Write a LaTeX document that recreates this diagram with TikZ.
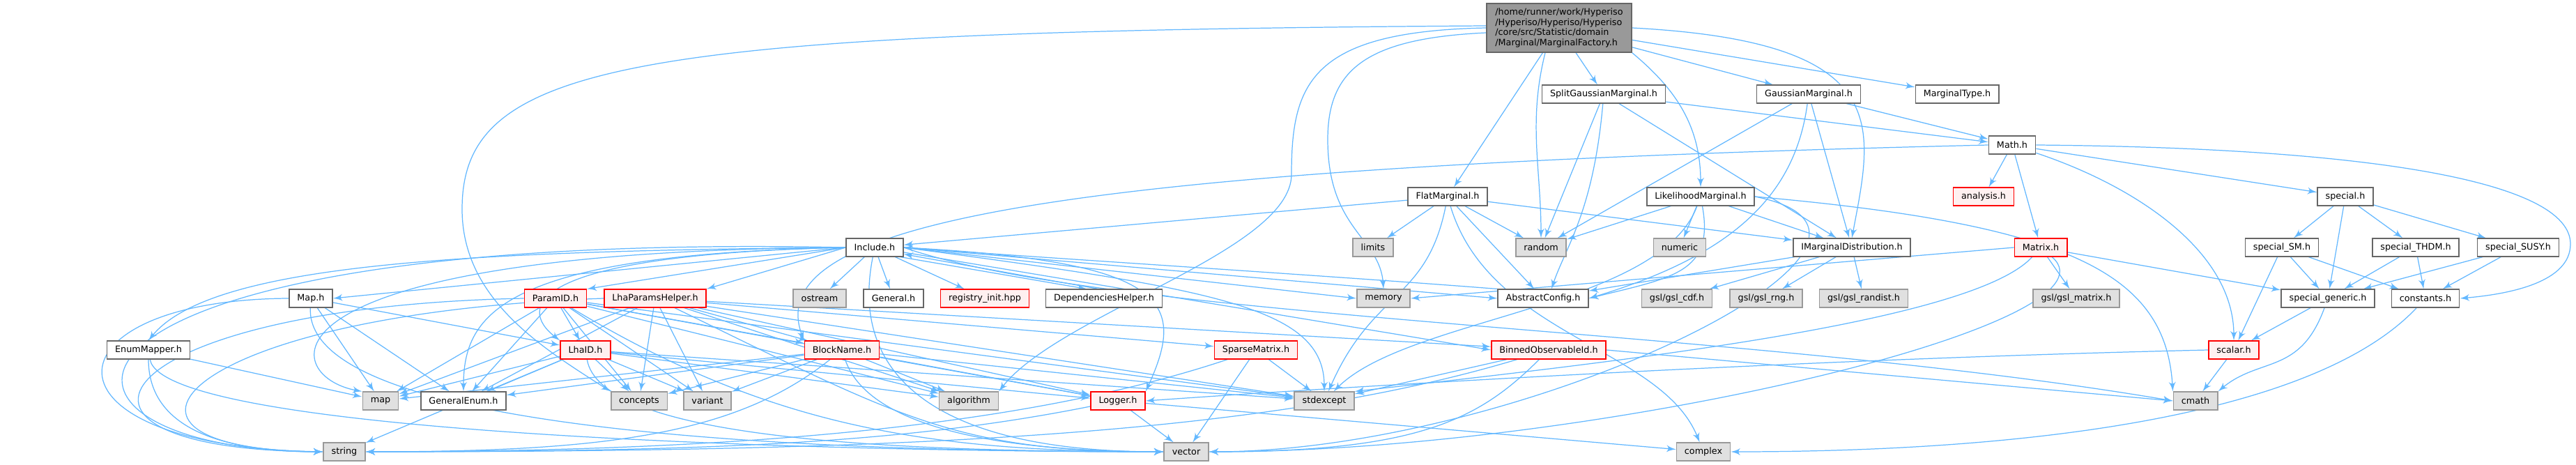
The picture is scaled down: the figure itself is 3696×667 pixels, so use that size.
\documentclass[tikz,border=0pt]{standalone}
\usepackage{fontspec}
\setmainfont{DejaVu Sans}
\usepackage{xcolor}
\usepackage{tikz}
\usetikzlibrary{shapes, arrows}
\definecolor{edgeblue}{HTML}{63B8FF}
\definecolor{framegray}{HTML}{666666}
\definecolor{sysgray}{HTML}{999999}
\definecolor{sysfill}{HTML}{E0E0E0}
\definecolor{partfill}{HTML}{FFF0F0}
\definecolor{partred}{HTML}{FF0000}
\definecolor{rootfill}{HTML}{999999}
\pgfdeclarelayer{background}
\pgfsetlayers{background,main}
\tikzstyle{header} = [rectangle, draw=framegray, fill=white, text centered, minimum height=0.255cm, inner xsep=0.115cm, inner ysep=0pt, line width=0.45pt]
\tikzstyle{sysheader} = [header, draw=sysgray, fill=sysfill]
\tikzstyle{partial} = [header, draw=partred, fill=partfill]
\tikzstyle{mainfile} = [header, fill=rootfill, align=left, minimum height=0.70cm, minimum width=2.08cm]
\tikzstyle{connector} = [draw=edgeblue, line width=0.35pt, -latex']

\begin{document}
\begin{tikzpicture}[x=0.01cm, y=-0.01cm, font=\fontsize{3.63}{4.2}\selectfont]
    \useasboundingbox (0,0) rectangle (3696,667);

    \node [mainfile] at (2237,40) (root)
    {/home/runner/work/Hyperiso\\/Hyperiso/Hyperiso/Hyperiso\\/core/src/Statistic/domain\\/Marginal/MarginalFactory.h};

    \node [header] at (2301,135) (split) {SplitGaussianMarginal.h};
    \node [header] at (2595,135) (gauss) {GaussianMarginal.h};
    \node [header] at (2808,135) (mtype) {MarginalType.h};
    \node [header] at (2887,208) (math) {Math.h};
    \node [header] at (2077,282) (flat) {FlatMarginal.h};
    \node [header] at (2440,282) (likeli) {LikelihoodMarginal.h};
    \node [partial] at (2846,282) (analysis) {analysis.h};
    \node [header] at (3365,282) (special) {special.h};

    \node [header] at (1255,355) (include) {Include.h};
    \node [sysheader] at (1970,355) (limits) {limits};
    \node [sysheader] at (2211,355) (random) {random};
    \node [sysheader] at (2410,355) (numeric) {numeric};
    \node [header] at (2657,355) (imarg) {IMarginalDistribution.h};
    \node [partial] at (2928,355) (matrix) {Matrix.h};
    \node [header] at (3274,355) (specsm) {special\_SM.h};
    \node [header] at (3466,355) (specthdm) {special\_THDM.h};
    \node [header] at (3613,355) (specsusy) {special\_SUSY.h};

    \node [header] at (446,428) (mapfile) {Map.h};
    \node [partial] at (797,428) (paramid) {ParamID.h};
    \node [partial] at (940,428) (lhaparams) {LhaParamsHelper.h};
    \node [sysheader] at (1176,428) (ostream) {ostream};
    \node [header] at (1282,428) (general) {General.h};
    \node [partial] at (1413,428) (registry) {registry\_init.hpp};
    \node [header] at (1584,428) (dephelper) {DependenciesHelper.h};
    \node [sysheader] at (1985,428) (memory) {memory};
    \node [header] at (2214,428) (absconfig) {AbstractConfig.h};
    \node [sysheader] at (2406,428) (gslcdf) {gsl/gsl\_cdf.h};
    \node [sysheader] at (2534,428) (gslrng) {gsl/gsl\_rng.h};
    \node [sysheader] at (2674,428) (gslrandist) {gsl/gsl\_randist.h};
    \node [sysheader] at (2979,428) (gslmatrix) {gsl/gsl\_matrix.h};
    \node [header] at (3340,428) (specgen) {special\_generic.h};
    \node [header] at (3480,428) (constants) {constants.h};

    \node [header] at (213,502) (enummap) {EnumMapper.h};
    \node [partial] at (840,502) (lhaid) {LhaID.h};
    \node [partial] at (1208,502) (blockname) {BlockName.h};
    \node [partial] at (1802,502) (sparse) {SparseMatrix.h};
    \node [partial] at (2222,502) (binned) {BinnedObservableId.h};
    \node [partial] at (3205,502) (scalar) {scalar.h};

    \node [sysheader] at (546,575) (map) {map};
    \node [header] at (665,575) (genenum) {GeneralEnum.h};
    \node [sysheader] at (917,575) (concepts) {concepts};
    \node [sysheader] at (1015,575) (variant) {variant};
    \node [sysheader] at (1390,575) (algorithm) {algorithm};
    \node [partial] at (1604,575) (logger) {Logger.h};
    \node [sysheader] at (1900,575) (stdexcept) {stdexcept};
    \node [sysheader] at (3150,575) (cmath) {cmath};

    \node [sysheader] at (494,648) (string) {string};
    \node [sysheader] at (1702,648) (vector) {vector};
    \node [sysheader] at (2444,648) (complex) {complex};

    \begin{pgfonlayer}{background}
    \fill [white] (0,0) rectangle (3696,667);

    % top level file
    \path [connector] (root) -- (flat);
    \path [connector] (root) -- (split);
    \path [connector] (root) -- (gauss);
    \path [connector] (root) -- (mtype);
    \path [connector] (root.south east) .. controls +(60,50) and +(0,-90) .. (likeli.north);
    \path [connector] ([xshift=-0.2cm]root.south) .. controls +(-25,100) and +(0,-100) .. (random.north);
    \path [connector] (root.east) .. controls +(380,20) and +(30,-160) .. (imarg.north);
    \path [connector] ([yshift=-0.07cm]root.west) .. controls (1960,55) and (1905,100) .. (1905,200) .. controls (1905,330) and (1980,340) .. (memory.north);
    \path [connector] (root.west) .. controls (1880,45) and (1853,120) .. (1853,250) .. controls (1853,360) and (1520,450) .. (algorithm.north east);
    \path [connector] ([yshift=0.03cm]root.west) .. controls (900,45) and (663,90) .. (663,300) .. controls (663,430) and (780,500) .. (concepts.north west);

    % marginals
    \path [connector] (split) -- (random);
    \path [connector] (split) .. controls +(-15,170) and +(20,-60) .. ([xshift=0.12cm]absconfig.north);
    \path [connector] (split) -- (imarg);
    \path [connector] (split) -- (math);
    \path [connector] (gauss) -- (random);
    \path [connector] (gauss) .. controls +(-20,150) and +(200,-60) .. (absconfig.east);
    \path [connector] (gauss) -- (imarg);
    \path [connector] (gauss) -- (math);
    \path [connector] (flat) -- (include);
    \path [connector] (flat) -- (limits);
    \path [connector] (flat) -- (random);
    \path [connector] (flat) -- (absconfig);
    \path [connector] (flat) -- (imarg);
    \path [connector] (flat) .. controls +(-30,150) and +(70,-160) .. (stdexcept);
    \path [connector] (flat) .. controls +(60,200) and +(-60,-150) .. (complex);
    \path [connector] (likeli) -- (random);
    \path [connector] (likeli) -- (numeric);
    \path [connector] (likeli) -- (imarg);
    \path [connector] (likeli) .. controls +(20,110) and +(120,-30) .. (absconfig.east);
    \path [connector] (likeli) .. controls +(-60,160) and +(120,-120) .. (stdexcept);
    \path [connector] (likeli.east) .. controls +(450,40) and +(-10,-170) .. (cmath.north west);
    \path [connector] (likeli.east) .. controls +(300,60) and +(450,0) .. (vector.east);
    \path [connector] (imarg) -- (gslcdf);
    \path [connector] (imarg) -- (gslrng);
    \path [connector] (imarg) -- (gslrandist);
    \path [connector] (imarg) -- (absconfig);

    % maths
    \path [connector] (math) -- (analysis);
    \path [connector] (math) -- (matrix);
    \path [connector] (math) -- (special);
    \path [connector] (math.east) .. controls (3400,212) and (3688,260) .. (3688,350) .. controls (3688,405) and (3600,422) .. (constants.east);
    \path [connector] (math) .. controls +(180,60) and +(0,-140) .. (scalar);
    \path [connector] (math.west) .. controls (1500,240) and (1090,320) .. (blockname.north west);
    \path [connector] (special) -- (specsm);
    \path [connector] (special) -- (specgen);
    \path [connector] (special) -- (specthdm);
    \path [connector] (special) -- (specsusy);
    \path [connector] (specsm) -- (scalar);
    \path [connector] (specsm) -- (specgen);
    \path [connector] (specsm) -- (constants);
    \path [connector] (specthdm) -- (specgen);
    \path [connector] (specthdm) -- (constants);
    \path [connector] (specsusy) -- (specgen);
    \path [connector] (specsusy) -- (constants);
    \path [connector] (specgen) -- (scalar);
    \path [connector] (specgen) .. controls +(-40,110) and +(60,-50) .. (cmath.north east);
    \path [connector] (scalar) -- (cmath);
    \path [connector] (scalar.west) .. controls (2600,515) and (2000,550) .. (logger.east);
    \path [connector] (constants) .. controls +(-160,170) and +(420,0) .. (complex.east);
    \path [connector] (matrix.west) -- (memory.east);
    \path [connector] (matrix) -- (gslmatrix);
    \path [connector] (matrix) -- (specgen);
    \path [connector] (matrix) .. controls +(-100,110) and +(350,-40) .. (stdexcept.north east);
    \path [connector] (matrix) .. controls +(130,110) and +(550,0) .. (vector.east);

    % common includes
    \path [connector] (include) -- (ostream);
    \path [connector] (include) -- (general);
    \path [connector] (include) -- (registry);
    \path [connector] ([xshift=-0.05cm]include.south east) -- ([xshift=-0.25cm]dephelper.north);
    \path [connector] ([xshift=-0.08cm]dephelper.north) -- ([yshift=0.04cm]include.south east);
    \path [connector] (include.west) -- (mapfile.east);
    \path [connector] (include.west) -- (paramid.north east);
    \path [connector] (include.west) -- (lhaparams.north east);
    \path [connector] (include.west) .. controls (650,360) and (300,380) .. (enummap.north);
    \path [connector] (include.west) .. controls (760,365) and (740,440) .. (lhaid.north west);
    \path [connector] (include.west) .. controls (720,365) and (665,450) .. (genenum.north);
    \path [connector] (include.west) .. controls (350,360) and (400,540) .. (map.north west);
    \path [connector] (include.west) .. controls (0,330) and (0,645) .. (string.west);
    \path [connector] (include) .. controls +(-40,200) and +(-300,0) .. (vector.west);
    \path [connector] (include.east) -- (memory.west);
    \path [connector] (include.east) -- (absconfig.west);
    \path [connector] (absconfig.north west) .. controls (1900,395) and (1500,370) .. (include.east);
    \path [connector] (include.east) .. controls +(380,20) and +(60,-130) .. (logger.north east);
    \path [connector] (include) -- (binned.west);
    \path [connector] (include.east) .. controls +(450,60) and +(0,-120) .. (stdexcept.north);
    \path [connector] (include.east) .. controls (1600,460) and (2500,470) .. (cmath.west);

    % lha helpers
    \path [connector] (mapfile) -- (map);
    \path [connector] (mapfile) -- (genenum);
    \path [connector] (mapfile) -- (lhaid);
    \path [connector] (mapfile.west) .. controls (60,430) and (40,640) .. (string.west);
    \path [connector] (mapfile) .. controls +(-10,200) and +(-450,0) .. (vector.west);
    \path [connector] (enummap) -- (map);
    \path [connector] (enummap) .. controls +(0,110) and +(-150,0) .. (string.west);
    \path [connector] (enummap) .. controls +(20,120) and +(-500,0) .. (vector.west);
    \path [connector] (paramid) -- (lhaid);
    \path [connector] (paramid) -- (map);
    \path [connector] (paramid) -- (genenum);
    \path [connector] (paramid) -- (concepts);
    \path [connector] (paramid) -- (variant);
    \path [connector] (paramid) -- (blockname);
    \path [connector] (paramid) -- (algorithm);
    \path [connector] (paramid) -- (logger);
    \path [connector] (paramid) -- (stdexcept);
    \path [connector] (paramid.west) .. controls (150,440) and (20,645) .. (string.west);
    \path [connector] (paramid) .. controls +(300,180) and +(-350,0) .. (vector.west);
    \path [connector] (lhaparams) -- (map);
    \path [connector] (lhaparams) -- (genenum);
    \path [connector] (lhaparams) -- (concepts);
    \path [connector] (lhaparams) -- (variant);
    \path [connector] (lhaparams) -- (blockname);
    \path [connector] (lhaparams) -- (algorithm);
    \path [connector] (lhaparams) -- (logger);
    \path [connector] (lhaparams) -- (sparse);
    \path [connector] (lhaparams) -- (stdexcept);
    \path [connector] (lhaparams) -- (binned);
    \path [connector] (lhaparams.west) .. controls (250,450) and (100,645) .. (string.west);
    \path [connector] (lhaparams) .. controls +(350,170) and +(-300,0) .. (vector.west);
    \path [connector] (lhaid) -- (map);
    \path [connector] (lhaid) -- (genenum);
    \path [connector] (lhaid) -- (concepts);
    \path [connector] (lhaid) -- (variant);
    \path [connector] (lhaid) -- (algorithm);
    \path [connector] (lhaid) -- (logger);
    \path [connector] (lhaid) -- (stdexcept);
    \path [connector] (lhaid) -- (string);
    \path [connector] (lhaid) .. controls +(20,120) and +(-450,0) .. (vector.west);
    \path [connector] (blockname) -- (map);
    \path [connector] (blockname) -- (genenum);
    \path [connector] (blockname) -- (concepts);
    \path [connector] (blockname) -- (variant);
    \path [connector] (blockname) -- (algorithm);
    \path [connector] (blockname) -- (logger);
    \path [connector] (blockname) -- (stdexcept);
    \path [connector] (blockname) .. controls +(-150,120) and +(350,0) .. (string.east);
    \path [connector] (blockname) .. controls +(40,120) and +(-200,0) .. (vector.west);

    % utilities
    \path [connector] (logger) -- (vector);
    \path [connector] (logger) .. controls +(-300,60) and +(500,0) .. (string.east);
    \path [connector] (logger) -- (complex);
    \path [connector] (sparse) -- (stdexcept);
    \path [connector] (sparse) -- (vector);
    \path [connector] (sparse) .. controls +(-300,100) and +(600,0) .. (string.east);
    \path [connector] (binned) -- (stdexcept);
    \path [connector] (binned) .. controls +(-100,100) and +(300,0) .. (vector.east);
    \path [connector] (binned) .. controls +(-400,120) and +(800,0) .. (string.east);
    \path [connector] (binned.east) -- (cmath.west);
    \end{pgfonlayer}
\end{tikzpicture}
\end{document}
